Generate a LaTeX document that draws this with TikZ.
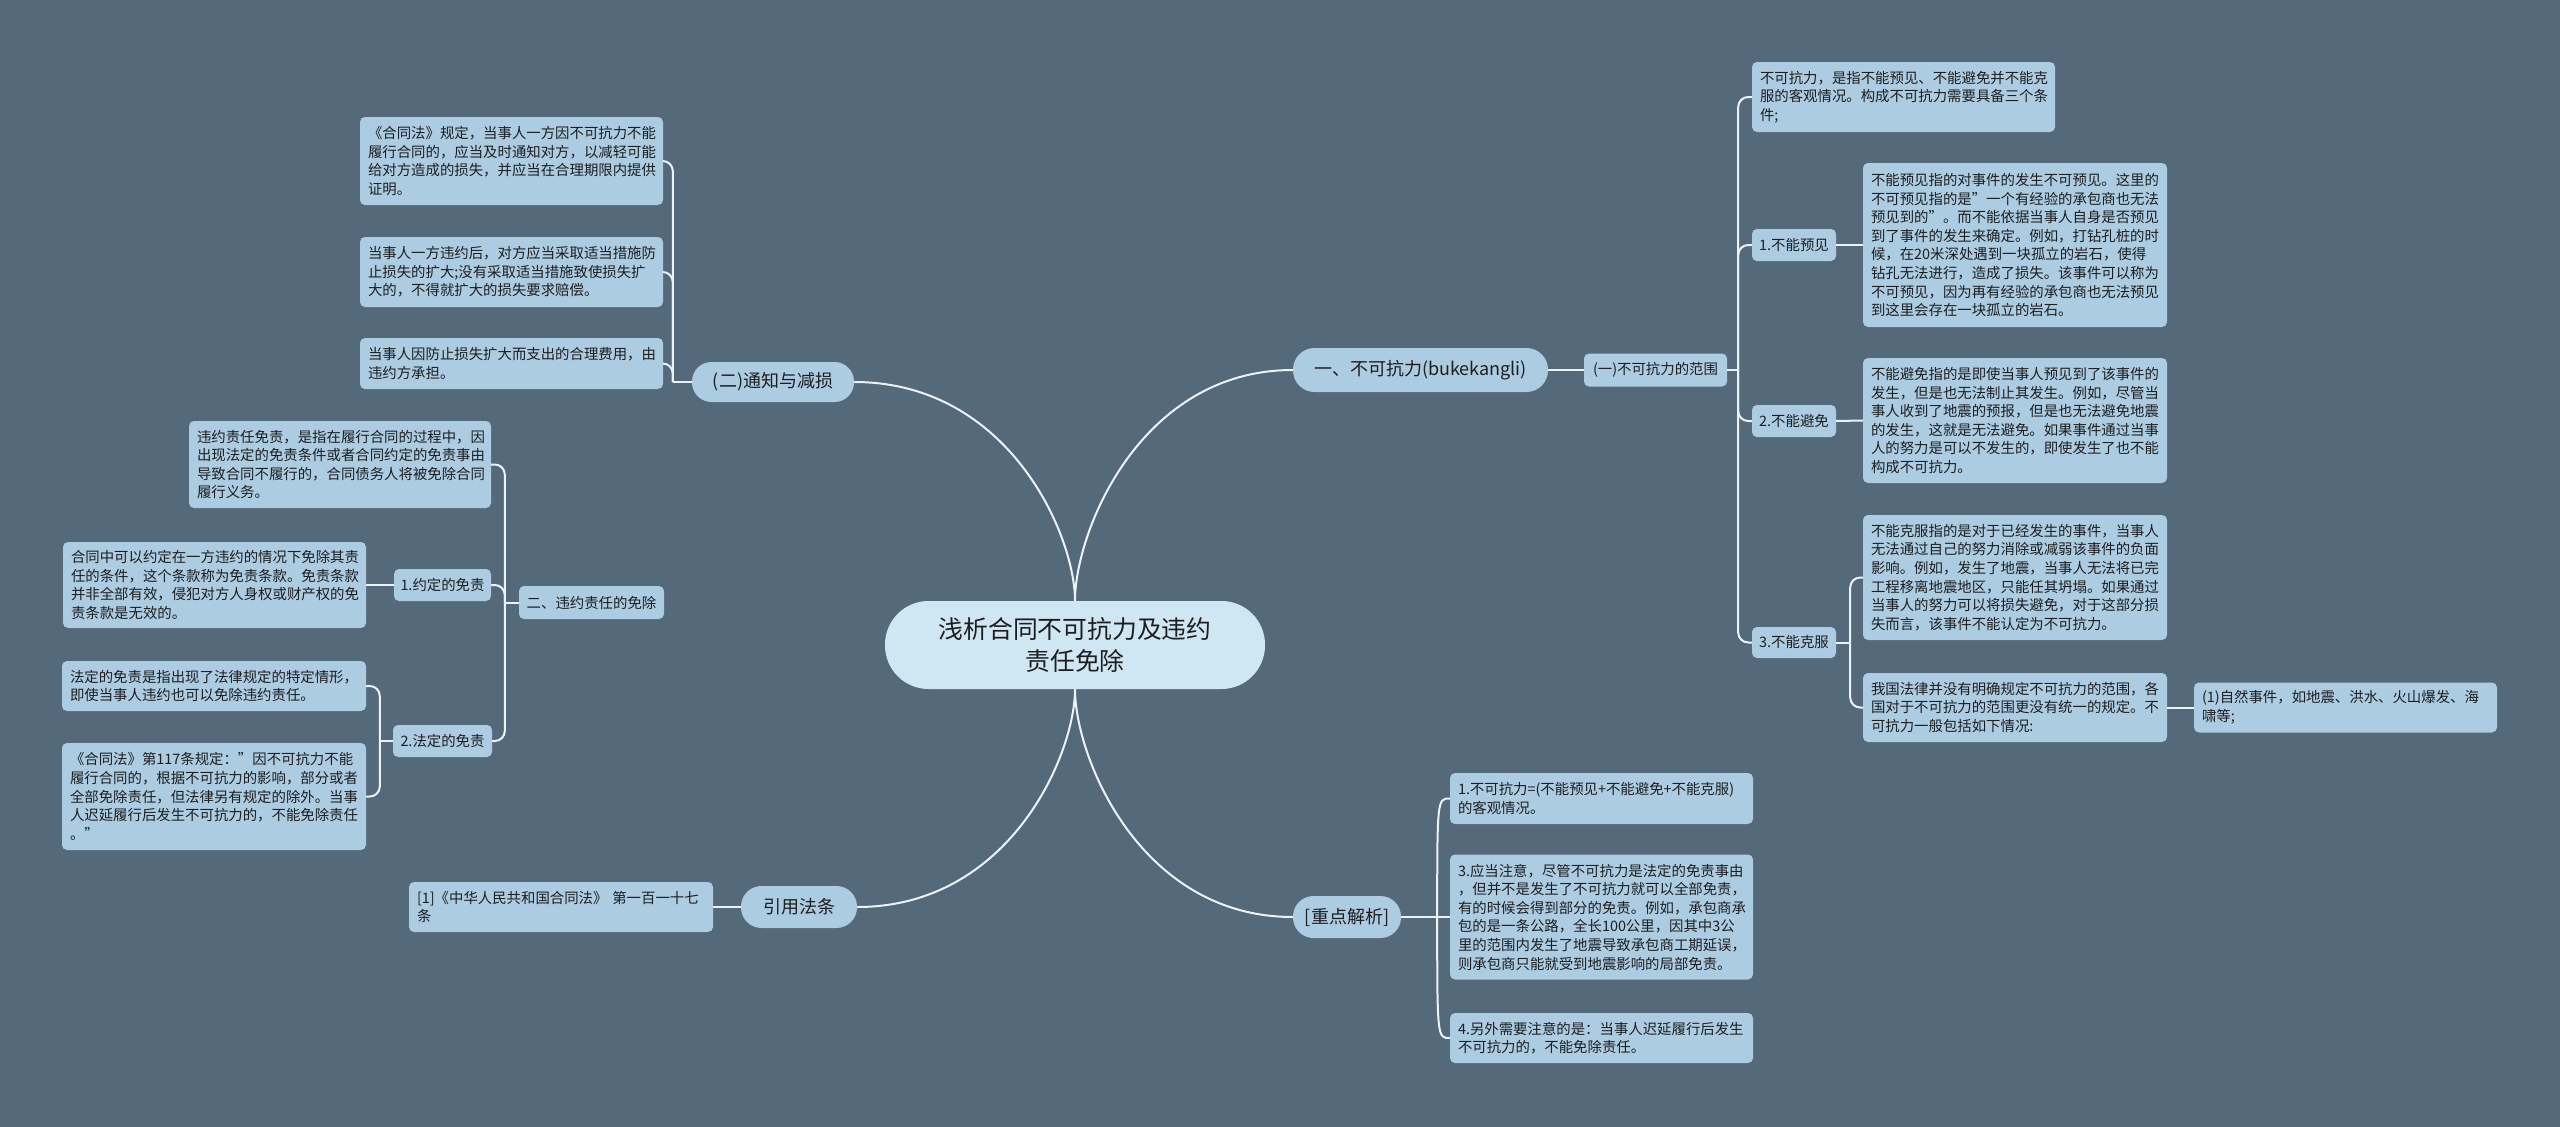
\documentclass[tikz,border=0pt]{standalone}
\usepackage{fontspec}
\setmainfont{Noto Sans CJK SC}
\usetikzlibrary{calc}
\definecolor{bgc}{RGB}{84,105,121}
\definecolor{leafc}{RGB}{172,204,226}
\definecolor{centc}{RGB}{207,230,243}
\definecolor{linec}{RGB}{236,243,248}
\definecolor{txt}{RGB}{30,30,30}
\newcommand{\sq}{\char34\relax}
\begin{document}
\begin{tikzpicture}[x=1pt,y=-1pt,
  leaf/.style={fill=leafc, rounded corners=5pt, inner xsep=8pt, inner ysep=0pt, align=left, text=txt, font=\fontsize{14.4}{18.6}\selectfont},
  lab/.style={fill=leafc, rounded corners=5pt, inner xsep=4pt, inner ysep=0pt, align=center, text=txt, font=\fontsize{14.4}{18.6}\selectfont},
  pill/.style={fill=leafc, inner sep=0pt, align=center, text=txt, font=\fontsize{18}{22}\selectfont},
  conn/.style={draw=linec, line width=2pt},
  elb/.style={draw=linec, line width=2pt, rounded corners=10pt},
]
\fill[bgc] (0,0) rectangle (2560,1127);
\useasboundingbox (0,0) rectangle (2560,1127);

% centre
\node[fill=centc, rounded corners=43.5pt, minimum width=380pt, minimum height=88pt, inner sep=0pt, align=center, text=txt, font=\fontsize{24.8}{32}\selectfont] (C) at (1075,645) {浅析合同不可抗力及违约\\责任免除};

% left: (二)通知与减损
\node[pill, rounded corners=19.5pt, minimum width=162pt, minimum height=40pt] (N2) at (773,382) {(二)通知与减损};
\node[leaf, text width=287pt, minimum height=88pt] (T1) at (511.5,161) {《合同法》规定，当事人一方因不可抗力不能\\履行合同的，应当及时通知对方，以减轻可能\\给对方造成的损失，并应当在合理期限内提供\\证明。};
\node[leaf, text width=287pt, minimum height=70pt] (T2) at (511.5,272) {当事人一方违约后，对方应当采取适当措施防\\止损失的扩大;没有采取适当措施致使损失扩\\大的，不得就扩大的损失要求赔偿。};
\node[leaf, text width=287pt, minimum height=51pt] (T3) at (511.5,363.5) {当事人因防止损失扩大而支出的合理费用，由\\违约方承担。};

% left: 二、违约责任的免除
\node[lab, minimum width=145pt, minimum height=33pt] (L2) at (591.5,602.5) {二、违约责任的免除};
\node[leaf, text width=286pt, minimum height=87pt] (L2a) at (340,464.5) {违约责任免责，是指在履行合同的过程中，因\\出现法定的免责条件或者合同约定的免责事由\\导致合同不履行的，合同债务人将被免除合同\\履行义务。};
\node[lab, minimum width=97pt, minimum height=32pt] (L2y) at (442.5,585) {1.约定的免责};
\node[leaf, text width=287pt, minimum height=86pt] (L2b) at (214.5,585) {合同中可以约定在一方违约的情况下免除其责\\任的条件，这个条款称为免责条款。免责条款\\并非全部有效，侵犯对方人身权或财产权的免\\责条款是无效的。};
\node[lab, minimum width=99pt, minimum height=32pt] (L2f) at (442.5,741) {2.法定的免责};
\node[leaf, text width=288pt, minimum height=50pt] (L2c) at (214,686) {法定的免责是指出现了法律规定的特定情形，\\即使当事人违约也可以免除违约责任。};
\node[leaf, text width=288pt, minimum height=107pt] (L2d) at (214,796.5) {《合同法》第117条规定：\sq 因不可抗力不能\\履行合同的，根据不可抗力的影响，部分或者\\全部免除责任，但法律另有规定的除外。当事\\人迟延履行后发生不可抗力的，不能免除责任\\。\sq};

% left: 引用法条
\node[pill, rounded corners=20.5pt, minimum width=116pt, minimum height=42pt] (Y) at (799,907) {引用法条};
\node[leaf, text width=288pt, minimum height=50pt] (Ref) at (561,907) {[1]《中华人民共和国合同法》 第一百一十七\\条};

% right: 一、不可抗力
\node[pill, rounded corners=21.5pt, minimum width=255pt, minimum height=44pt] (B1) at (1420.5,370) {一、不可抗力(bukekangli)};
\node[lab, minimum width=143pt, minimum height=33pt] (B1s) at (1655.5,370) {(一)不可抗力的范围};
\node[leaf, text width=287pt, minimum height=70pt] (R0) at (1903.5,97) {不可抗力，是指不能预见、不能避免并不能克\\服的客观情况。构成不可抗力需要具备三个条\\件;};
\node[lab, minimum width=84pt, minimum height=32pt] (P1) at (1794,245) {1.不能预见};
\node[leaf, text width=288pt, minimum height=164pt] (R1) at (2015,245) {不能预见指的对事件的发生不可预见。这里的\\不可预见指的是\sq 一个有经验的承包商也无法\\预见到的\sq 。而不能依据当事人自身是否预见\\到了事件的发生来确定。例如，打钻孔桩的时\\候，在20米深处遇到一块孤立的岩石，使得\\钻孔无法进行，造成了损失。该事件可以称为\\不可预见，因为再有经验的承包商也无法预见\\到这里会存在一块孤立的岩石。};
\node[lab, minimum width=84pt, minimum height=32pt] (P2) at (1794,421) {2.不能避免};
\node[leaf, text width=288pt, minimum height=125pt] (R2) at (2015,420.5) {不能避免指的是即使当事人预见到了该事件的\\发生，但是也无法制止其发生。例如，尽管当\\事人收到了地震的预报，但是也无法避免地震\\的发生，这就是无法避免。如果事件通过当事\\人的努力是可以不发生的，即使发生了也不能\\构成不可抗力。};
\node[lab, minimum width=84pt, minimum height=31pt] (P3) at (1794,642.5) {3.不能克服};
\node[leaf, text width=288pt, minimum height=125pt] (R3a) at (2015,577.5) {不能克服指的是对于已经发生的事件，当事人\\无法通过自己的努力消除或减弱该事件的负面\\影响。例如，发生了地震，当事人无法将已完\\工程移离地震地区，只能任其坍塌。如果通过\\当事人的努力可以将损失避免，对于这部分损\\失而言，该事件不能认定为不可抗力。};
\node[leaf, text width=288pt, minimum height=69pt] (R3b) at (2015,707.5) {我国法律并没有明确规定不可抗力的范围，各\\国对于不可抗力的范围更没有统一的规定。不\\可抗力一般包括如下情况:};
\node[leaf, text width=287pt, minimum height=50pt] (R3c) at (2345.5,707.5) {(1)自然事件，如地震、洪水、火山爆发、海\\啸等;};

% right: [重点解析]
\node[pill, rounded corners=20.5pt, minimum width=108pt, minimum height=42pt] (B2) at (1347,917) {[重点解析]};
\node[leaf, text width=287pt, minimum height=51pt] (K1) at (1601.5,798.5) {1.不可抗力=(不能预见+不能避免+不能克服)\\的客观情况。};
\node[leaf, text width=287pt, minimum height=125pt] (K3) at (1601.5,917) {3.应当注意，尽管不可抗力是法定的免责事由\\，但并不是发生了不可抗力就可以全部免责，\\有的时候会得到部分的免责。例如，承包商承\\包的是一条公路，全长100公里，因其中3公\\里的范围内发生了地震导致承包商工期延误，\\则承包商只能就受到地震影响的局部免责。};
\node[leaf, text width=287pt, minimum height=50pt] (K4) at (1601.5,1038) {4.另外需要注意的是：当事人迟延履行后发生\\不可抗力的，不能免除责任。};

% centre connectors
\foreach \t/\a in {B1/west, N2/east} {
  \draw[conn] (C.north) .. controls ($(C.north)!0.3!(C.north |- \t.\a)$) and ($(\t.\a)!0.7!(C.north |- \t.\a)$) .. (\t.\a);
}
\foreach \t/\a in {B2/west, Y/east} {
  \draw[conn] (C.south) .. controls ($(C.south)!0.3!(C.south |- \t.\a)$) and ($(\t.\a)!0.7!(C.south |- \t.\a)$) .. (\t.\a);
}

% junctions
\coordinate (jN2) at ([xshift=-19pt]N2.west);
\coordinate (jL2) at ([xshift=-14pt]L2.west);
\coordinate (jL2f) at ([xshift=-13pt]L2f.west);
\coordinate (jB1s) at ([xshift=11pt]B1s.east);
\coordinate (jP3) at ([xshift=14pt]P3.east);
\coordinate (jB2) at ([xshift=36pt]B2.east);

\draw[conn] (N2.west) -- (jN2);
\foreach \c in {T1,T2,T3} \draw[elb] (jN2) |- (\c.east);

\draw[conn] (L2.west) -- (jL2);
\foreach \c in {L2a,L2y,L2f} \draw[elb] (jL2) |- (\c.east);
\draw[conn] (L2y.west) -- (L2b.east);
\draw[conn] (L2f.west) -- (jL2f);
\foreach \c in {L2c,L2d} \draw[elb] (jL2f) |- (\c.east);

\draw[conn] (Y.west) -- (Ref.east);

\draw[conn] (B1.east) -- (B1s.west);
\draw[conn] (B1s.east) -- (jB1s);
\foreach \c in {R0,P1,P2,P3} \draw[elb] (jB1s) |- (\c.west);
\draw[conn] (P1.east) -- (R1.west);
\draw[conn] (P2.east) -- (R2.west);
\draw[conn] (P3.east) -- (jP3);
\foreach \c in {R3a,R3b} \draw[elb] (jP3) |- (\c.west);
\draw[conn] (R3b.east) -- (R3c.west);

\draw[conn] (B2.east) -- (jB2);
\foreach \c in {K1,K3,K4} \draw[conn] (jB2) .. controls (jB2 |- \c.west) .. (\c.west);
\end{tikzpicture}
\end{document}
